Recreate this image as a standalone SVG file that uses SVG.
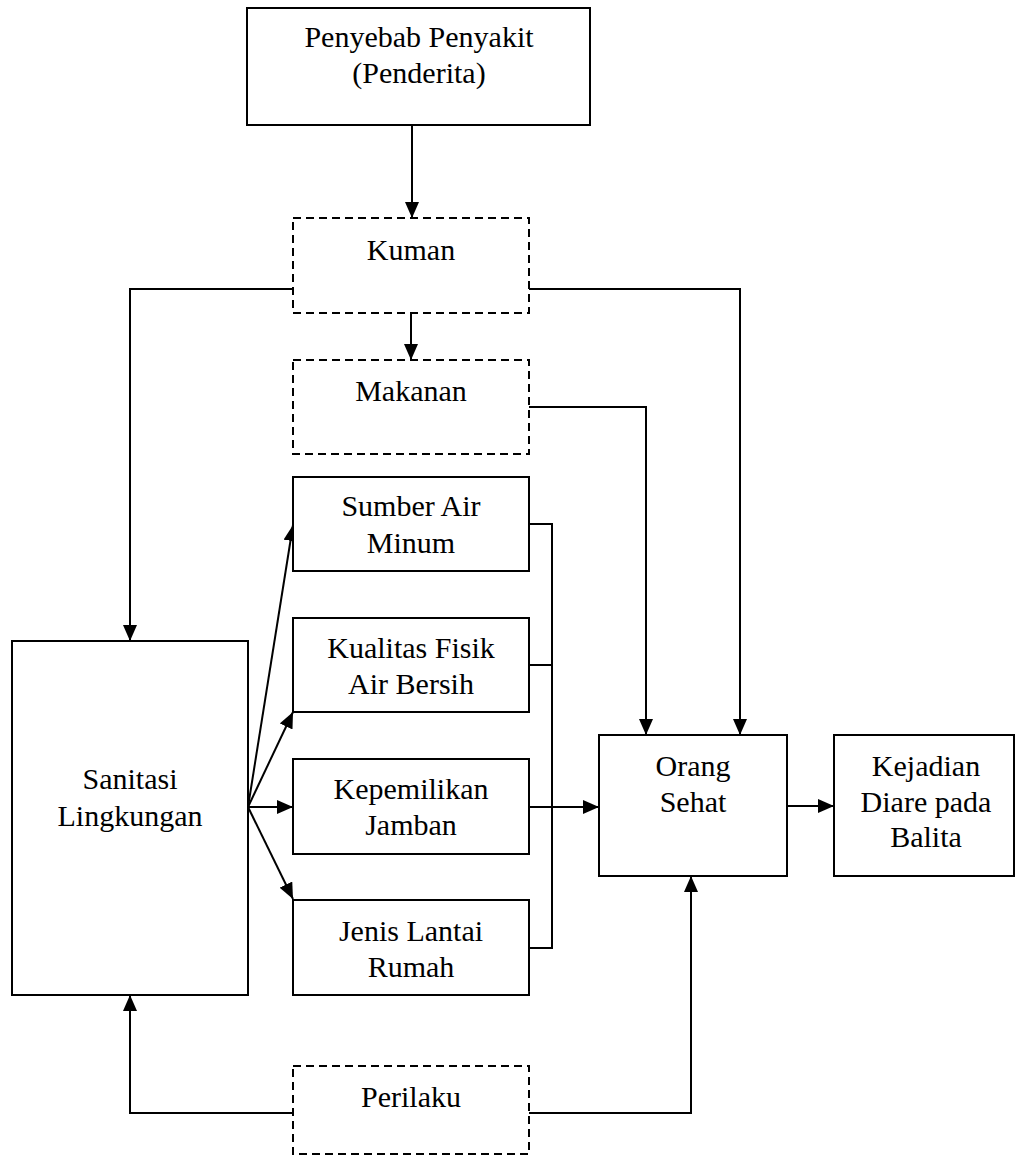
<svg xmlns="http://www.w3.org/2000/svg" width="1017" height="1158" viewBox="0 0 1017 1158">
<style>
.box{fill:#fff;stroke:#000;stroke-width:2}
.dash{fill:#fff;stroke:#000;stroke-width:2;stroke-dasharray:8 5}
.ln{fill:none;stroke:#000;stroke-width:2}
.t{font-family:'Liberation Serif','Times New Roman','DejaVu Serif',serif;font-size:30px;fill:#000;text-anchor:middle}
</style>
<defs>
<marker id="ah" markerWidth="16" markerHeight="14" refX="16" refY="7" orient="auto" markerUnits="userSpaceOnUse">
<path d="M0,0 L16,7 L0,14 Z" fill="#000"/>
</marker>
</defs>
<rect width="1017" height="1158" fill="#fff"/>
<g id="connectors">
<path class="ln" d="M412,125 V218" marker-end="url(#ah)"/>
<path class="ln" d="M293,289 H130 V641" marker-end="url(#ah)"/>
<path class="ln" d="M411,313 V360" marker-end="url(#ah)"/>
<path class="ln" d="M529,289 H740 V735" marker-end="url(#ah)"/>
<path class="ln" d="M529,407 H646 V735" marker-end="url(#ah)"/>
<path class="ln" d="M248,807 L293,525" marker-end="url(#ah)"/>
<path class="ln" d="M248,807 L293,712" marker-end="url(#ah)"/>
<path class="ln" d="M248,807 H293" marker-end="url(#ah)"/>
<path class="ln" d="M248,807 L293,899" marker-end="url(#ah)"/>
<path class="ln" d="M529,524 H552 V948 H529"/>
<path class="ln" d="M529,665 H552"/>
<path class="ln" d="M529,807 H599" marker-end="url(#ah)"/>
<path class="ln" d="M787,806 H834" marker-end="url(#ah)"/>
<path class="ln" d="M293,1113 H130 V995" marker-end="url(#ah)"/>
<path class="ln" d="M529,1113 H691 V876" marker-end="url(#ah)"/>
</g>
<g id="penyebab">
<rect class="box" x="247" y="8" width="343" height="117"/>
<text class="t" x="419" y="47">Penyebab Penyakit</text>
<text class="t" x="419" y="83">(Penderita)</text>
</g>
<g id="kuman">
<rect class="dash" x="293" y="218" width="236" height="95"/>
<text class="t" x="411" y="260">Kuman</text>
</g>
<g id="makanan">
<rect class="dash" x="293" y="360" width="236" height="94"/>
<text class="t" x="411" y="401">Makanan</text>
</g>
<g id="sumber">
<rect class="box" x="293" y="477" width="236" height="94"/>
<text class="t" x="411" y="516">Sumber Air</text>
<text class="t" x="411" y="553">Minum</text>
</g>
<g id="kualitas">
<rect class="box" x="293" y="618" width="236" height="94"/>
<text class="t" x="411" y="658">Kualitas Fisik</text>
<text class="t" x="411" y="694">Air Bersih</text>
</g>
<g id="kepemilikan">
<rect class="box" x="293" y="759" width="236" height="95"/>
<text class="t" x="411" y="799">Kepemilikan</text>
<text class="t" x="411" y="835">Jamban</text>
</g>
<g id="jenis">
<rect class="box" x="293" y="900" width="236" height="95"/>
<text class="t" x="411" y="941">Jenis Lantai</text>
<text class="t" x="411" y="977">Rumah</text>
</g>
<g id="sanitasi">
<rect class="box" x="12" y="641" width="236" height="354"/>
<text class="t" x="130" y="789">Sanitasi</text>
<text class="t" x="130" y="826">Lingkungan</text>
</g>
<g id="perilaku">
<rect class="dash" x="293" y="1066" width="236" height="88"/>
<text class="t" x="411" y="1107">Perilaku</text>
</g>
<g id="orang">
<rect class="box" x="599" y="735" width="188" height="141"/>
<text class="t" x="693" y="776">Orang</text>
<text class="t" x="693" y="812">Sehat</text>
</g>
<g id="kejadian">
<rect class="box" x="834" y="735" width="180" height="141"/>
<text class="t" x="926" y="776">Kejadian</text>
<text class="t" x="926" y="812">Diare pada</text>
<text class="t" x="926" y="847">Balita</text>
</g>
</svg>
